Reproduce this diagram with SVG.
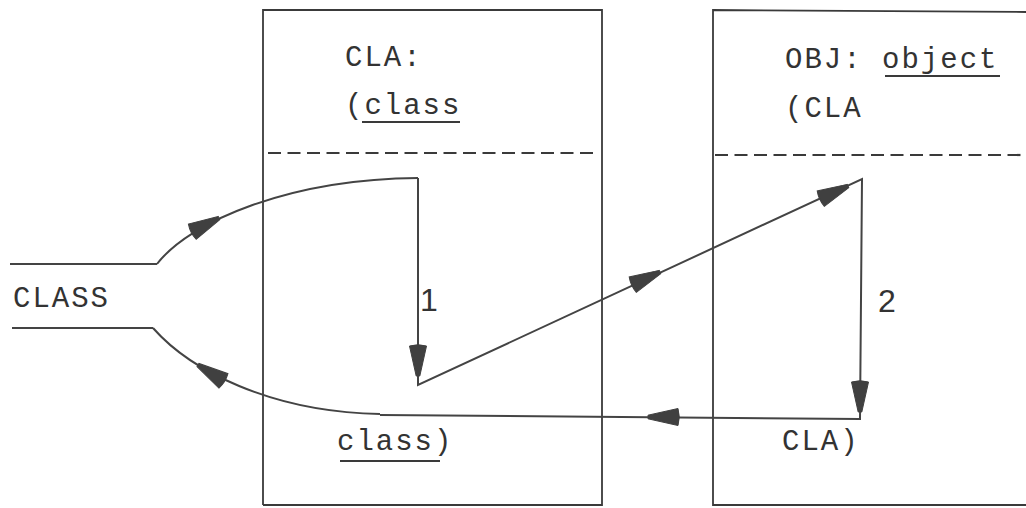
<svg xmlns="http://www.w3.org/2000/svg" xmlns:xlink="http://www.w3.org/1999/xlink" width="1026" height="508" viewBox="0 0 1026 508">
<style>
.box{fill:none;stroke:#3a3a3a;stroke-width:1.8}
.dash{fill:none;stroke:#3a3a3a;stroke-width:2.2;stroke-dasharray:13 6.5}
.ln{fill:none;stroke:#444;stroke-width:2}
.ah{fill:#404040;stroke:#404040;stroke-width:1}
.tt{font-family:"Liberation Mono",monospace;font-size:29px;letter-spacing:2px;fill:#333}
.num{font-family:"Liberation Sans",sans-serif;font-size:32px;fill:#333}
.ul{stroke:#3a3a3a;stroke-width:2}
</style>
<defs>
<path id="arrow" d="M0,-1.8 L-30,-8.5 Q-32.5,0 -30,8.5 L0,1.8 Z"/>
</defs>
<rect width="1026" height="508" fill="#fff"/>

<g id="class-node">
  <line class="ln" x1="10" y1="264" x2="157" y2="264"/>
  <line class="ln" x1="12" y1="328" x2="153" y2="328"/>
  <text class="tt" x="13" y="307">CLASS</text>
</g>

<g id="cla-node">
  <path class="box" d="M263,505 L263,10 L602,10 L602,505 L263,505"/>
  <line class="dash" x1="268" y1="153" x2="594" y2="153"/>
  <text class="tt" x="345" y="66">CLA:</text>
  <text class="tt" x="345" y="114">(class</text>
  <line class="ul" x1="362" y1="122" x2="460" y2="122"/>
  <text class="tt" x="337" y="450">class)</text>
  <line class="ul" x1="340" y1="461" x2="440" y2="461"/>
</g>

<g id="obj-node">
  <path class="box" d="M1026,12 L713,10 L713,505 L1026,505"/>
  <line class="dash" x1="715" y1="155" x2="1026" y2="155"/>
  <text class="tt" x="785" y="68">OBJ: object</text>
  <line class="ul" x1="885" y1="76" x2="1000" y2="76"/>
  <text class="tt" x="785" y="117">(CLA</text>
  <text class="tt" x="782" y="450">CLA)</text>
</g>

<g id="connectors">
  <path class="ln" d="M157,264 C190,221 290,179 418,178"/>
  <path class="ln" d="M418,178 L418,385 L862,179 L860,419 L380,415"/>
  <path class="ln" d="M153,328 C190,370 270,412 380,414"/>
  <use class="ah" xlink:href="#arrow" transform="translate(219,218) rotate(-27)"/>
  <use class="ah" xlink:href="#arrow" transform="translate(418,376) rotate(90)"/>
  <use class="ah" xlink:href="#arrow" transform="translate(660,272) rotate(-24.9)"/>
  <use class="ah" xlink:href="#arrow" transform="translate(848,186) rotate(-24.9)"/>
  <use class="ah" xlink:href="#arrow" transform="translate(860,412) rotate(90)"/>
  <use class="ah" xlink:href="#arrow" transform="translate(648,417) rotate(180)"/>
  <use class="ah" xlink:href="#arrow" transform="translate(198,365) rotate(212)"/>
  <text class="num" x="420" y="311">1</text>
  <text class="num" x="878" y="312">2</text>
</g>
</svg>
